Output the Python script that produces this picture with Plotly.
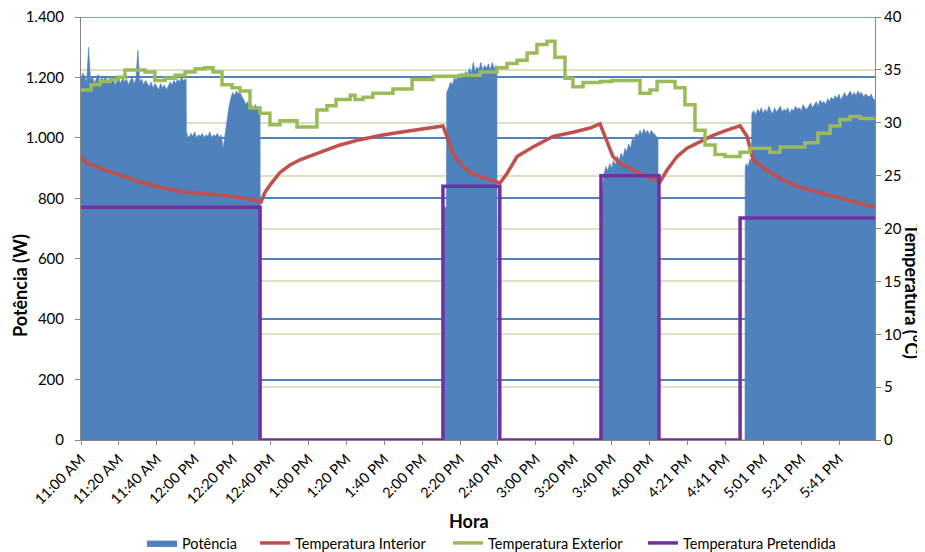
import plotly.graph_objects as go

# ---- data (x = sample index, ~1 per minute from 11:00 AM) ----
tick_idx = [0, 20, 40, 60, 80, 100, 120, 140, 160, 180, 200, 220, 240, 260, 280, 300, 320, 340, 360, 380, 400]
tick_labels = ["11:00 AM", "11:20 AM", "11:40 AM", "12:00 PM", "12:20 PM", "12:40 PM", "1:00 PM",
               "1:20 PM", "1:40 PM", "2:00 PM", "2:20 PM", "2:40 PM", "3:00 PM", "3:20 PM", "3:40 PM",
               "4:00 PM", "4:21 PM", "4:41 PM", "5:01 PM", "5:21 PM", "5:41 PM"]

# Potência (W): four "on" periods
p1_idx = list(range(0, 56)) + [55.5, 55.6] + list(range(56, 95)) + [94.5, 94.6]
p1_w = [1195, 1215, 1200, 1185, 1300, 1190, 1205, 1180, 1195, 1210,
        1185, 1200, 1190, 1205, 1180, 1195, 1185, 1200, 1175, 1190,
        1195, 1180, 1200, 1185, 1195, 1175, 1190, 1200, 1180, 1195,
        1290, 1185, 1195, 1175, 1190, 1180, 1170, 1185, 1165, 1180,
        1170, 1160, 1180, 1165, 1175, 1160, 1170, 1185, 1175, 1190,
        1180, 1195, 1185, 1200, 1190, 1195,
        1195, 1025,
        1010, 1000, 1015, 1005, 1020, 1000, 1010, 1005, 1015, 1000,
        1010, 1005, 1020, 1000, 1010, 1005, 1015, 1000, 1010, 965,
        1010, 1060, 1100, 1130, 1150, 1140, 1155, 1145, 1150, 1135,
        1125, 1110, 1120, 1100, 1110, 1095, 1110, 1100, 1105,
        1100, 0]
p2_idx = [191, 191.2, 192.8] + list(range(193, 220)) + [219.5, 219.6]
p2_w = [0, 770, 770,
        1150, 1165, 1185, 1175, 1200, 1190, 1210, 1200, 1215, 1205, 1220, 1210, 1230, 1215, 1250,
        1220, 1235, 1225, 1250, 1225, 1240, 1230, 1245, 1225, 1250, 1230, 1240,
        1225, 0]
p3_idx = [274.4, 274.5] + list(range(275, 305)) + [304.5, 304.6]
p3_w = [0, 750,
        820, 880, 905, 890, 915, 900, 925, 910, 940, 925, 950, 935, 965, 955, 980, 965, 1000, 990,
        1015, 1005, 1025, 1010, 1030, 1015, 1025, 1010, 1025, 1015, 1010, 1000,
        1000, 0]
p4_idx = [350.4, 350.5, 351, 352, 353, 353.8] + list(range(354, 420))
p4_w = [0, 900, 915, 905, 930, 920,
        1080, 1090, 1075, 1095, 1085, 1100, 1080, 1095, 1085, 1105, 1090, 1080, 1100, 1085, 1095,
        1105, 1085, 1095, 1090, 1100, 1080, 1095, 1090, 1105, 1095, 1100, 1090, 1110, 1100, 1095,
        1105, 1115, 1100, 1110, 1120, 1105, 1125, 1115, 1120, 1110, 1130, 1120, 1135, 1125, 1140,
        1130, 1145, 1125, 1140, 1150, 1135, 1145, 1155, 1140, 1150, 1140, 1155, 1145, 1150, 1135,
        1145, 1140, 1135, 1145, 1130, 1125]

interior_idx = [0, 3, 10, 20.6, 31, 41.7, 52.2, 62.8, 73.4, 83.9, 91.8, 95, 97, 99.7, 105, 110.3, 115.6, 126.1,
                136.7, 147.2, 157.8, 168.3, 178.9, 191, 193.7, 196.3, 200, 205.3, 210.6, 215.8, 221.1, 224.8,
                230.1, 238.5, 249.1, 259.6, 268.6, 273.9, 277.6, 280.7, 284.4, 289.7, 295, 300.3, 305.5, 309.2,
                314.5, 319.8, 326.6, 333.5, 340.9, 347.8, 351.5, 354.6, 362, 370.4, 379.4, 389.9, 400.5, 411.1, 419]
interior_c = [26.8, 26.2, 25.7, 25.0, 24.4, 23.9, 23.5, 23.3, 23.2, 22.9, 22.7, 22.5, 23.4, 24.1, 25.3, 26.0,
              26.5, 27.2, 27.9, 28.4, 28.8, 29.1, 29.4, 29.7, 28.4, 27.1, 26.2, 25.3, 24.9, 24.6, 24.3, 25.2,
              26.8, 27.7, 28.7, 29.1, 29.5, 29.9, 28.1, 26.8, 26.2, 25.7, 25.2, 24.8, 24.4, 25.5, 26.8, 27.6,
              28.2, 28.8, 29.3, 29.7, 28.7, 26.5, 25.5, 24.6, 23.9, 23.4, 22.9, 22.4, 22.0]

exterior_idx = [0, 5.3, 10, 15.3, 19.5, 23.2, 33.8, 39, 44.3, 49.6, 54.9, 60.2, 65.4, 69.7, 74.4, 79.7, 83.9,
                89.2, 94.5, 99.7, 105, 114, 124.5, 129.8, 134.6, 142, 144.6, 148.8, 154, 164.6, 174.7, 185.8,
                200, 210.6, 219.5, 224.8, 230.1, 235.4, 240.6, 245.9, 250.1, 255.4, 259.6, 264.9, 273.9, 280.2,
                295, 300.3, 304, 313.5, 318.7, 324, 329.3, 334.6, 339.8, 347.8, 353, 363.6, 368.9, 382, 388.9,
                395.3, 400.5, 405.8, 411.1, 419]
exterior_c = [33.1, 33.6, 33.9, 34.1, 34.3, 35.0, 34.8, 34.0, 34.2, 34.5, 34.8, 35.1, 35.2, 34.8, 33.6, 33.3,
              33.0, 31.4, 30.9, 29.8, 30.2, 29.6, 31.2, 31.6, 32.2, 32.6, 32.2, 32.4, 32.8, 33.2, 34.1, 34.4,
              34.5, 34.8, 35.2, 35.6, 35.9, 36.6, 37.4, 37.7, 36.2, 34.2, 33.4, 33.8, 33.9, 34.0, 32.8, 33.1,
              33.9, 33.3, 31.7, 29.3, 27.9, 27.0, 26.8, 27.2, 27.6, 27.2, 27.7, 28.1, 29.0, 29.7, 30.3, 30.6,
              30.4, 30.5]

setpoint_idx = [0, 94.5, 191, 221, 274.4, 305, 347.8, 419]
setpoint_c = [22, 0, 24, 0, 25, 0, 21, 21]

power_ticks = [0, 200, 400, 600, 800, 1000, 1200, 1400]
power_ticktext = ["0", "200", "400", "600", "800", "1.000", "1.200", "1.400"]
temp_ticks = [0, 5, 10, 15, 20, 25, 30, 35, 40]

power_idx = p1_idx + p2_idx + p3_idx + p4_idx
power_w = p1_w + p2_w + p3_w + p4_w

FONT = "Lato, Carlito, Calibri, sans-serif"
# target plot-area box in window pixels; the page body has an 8px default margin
OFF = 8
W, H = 925, 552
L, R, T, B = 81, 875, 17, 440
PW, PH = R - L, B - T


def px_x(v):
    return (v - L) / PW


def px_y(v):
    return (B - v) / PH


fig = go.Figure()
fig.add_trace(go.Scatter(x=power_idx, y=power_w, name="Potência", mode="lines",
                         line=dict(color="#4F81BD", width=0.6), fill="tozeroy",
                         fillcolor="#4F81BD", yaxis="y", legend="legend"))
fig.add_trace(go.Scatter(x=interior_idx, y=interior_c, name="Temperatura Interior", mode="lines",
                         line=dict(color="#C0504D", width=3.5), yaxis="y2", legend="legend2"))
fig.add_trace(go.Scatter(x=exterior_idx, y=exterior_c, name="Temperatura Exterior", mode="lines",
                         line=dict(color="#9BBB59", width=3.5, shape="hv"), yaxis="y2", legend="legend3"))
fig.add_trace(go.Scatter(x=setpoint_idx, y=setpoint_c, name="Temperatura Pretendida", mode="lines",
                         line=dict(color="#7030A0", width=3.5, shape="hv"), yaxis="y2", legend="legend4"))

axis_grey = "#868686"
grid_blue = "#4F81BD"
leg_common = dict(orientation="h", yanchor="middle", xanchor="left", y=px_y(543),
                  font=dict(size=14.5), itemwidth=30, bgcolor="rgba(0,0,0,0)")
fig.update_layout(
    width=W - OFF, height=H - OFF,
    margin=dict(l=L - OFF, r=W - R, t=T - OFF, b=H - B, autoexpand=False),
    paper_bgcolor="white", plot_bgcolor="white",
    font=dict(family=FONT, size=14, color="#000000"),
    showlegend=True,
    legend=dict(x=px_x(142), **leg_common),
    legend2=dict(x=px_x(255), **leg_common),
    legend3=dict(x=px_x(448), **leg_common),
    legend4=dict(x=px_x(643), **leg_common),
    xaxis=dict(range=[0, 419], tickmode="array", tickvals=tick_idx, ticktext=tick_labels,
               tickangle=-45, ticks="outside", ticklen=4, tickcolor=axis_grey,
               showline=True, linecolor=axis_grey, linewidth=1, showgrid=False,
               zeroline=False, tickfont=dict(size=14.5), automargin=False, ticklabeloverflow="allow"),
    yaxis=dict(range=[0, 1400], tickmode="array", tickvals=power_ticks, ticktext=power_ticktext,
               ticks="outside", ticklen=5, tickcolor=axis_grey, showline=True, linecolor=axis_grey,
               linewidth=1, showgrid=True, gridcolor=grid_blue, gridwidth=1.6, zeroline=False,
               tickfont=dict(size=15), ticklabelstandoff=8, automargin=False, ticklabeloverflow="allow"),
    yaxis2=dict(range=[0, 40], tickmode="array", tickvals=temp_ticks, overlaying="y", side="right",
                ticks="outside", ticklen=5, tickcolor=axis_grey, showline=True, linecolor=axis_grey,
                linewidth=1, showgrid=True, gridcolor="#D7E4BD", gridwidth=1.6, zeroline=False,
                tickfont=dict(size=15), automargin=False, ticklabeloverflow="allow"),
    shapes=[
        dict(type="line", xref="paper", x0=0, x1=1, yref="y", y0=power_ticks[-1], y1=power_ticks[-1],
             line=dict(color=grid_blue, width=1.6), layer="below"),
    ],
    annotations=[
        dict(text="<b>Potência (W)</b>", xref="paper", yref="paper", x=px_x(20), y=px_y(286),
             xanchor="center", yanchor="middle", textangle=-90, showarrow=False, font=dict(size=18)),
        dict(text="<b>Temperatura (°C)</b>", xref="paper", yref="paper", x=px_x(912), y=px_y(291),
             xanchor="center", yanchor="middle", textangle=90, showarrow=False, font=dict(size=18)),
        dict(text="<b>Hora</b>", xref="paper", yref="paper", x=px_x(469), y=px_y(521),
             xanchor="center", yanchor="middle", showarrow=False, font=dict(size=18)),
    ],
)

fig.write_html("out.html")
